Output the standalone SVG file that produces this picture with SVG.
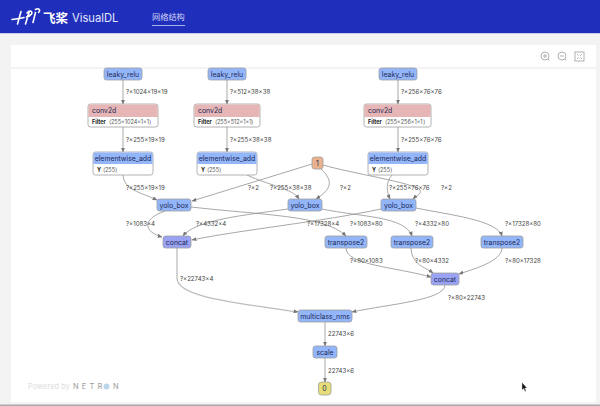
<svg xmlns="http://www.w3.org/2000/svg" width="600" height="406" viewBox="0 0 600 406">
<style>
text{font-family:"Inter","Liberation Sans",sans-serif;fill:#222}
.n{font-size:6.900px;text-anchor:middle;fill:#1d2a55}
.e{font-size:6.100px;fill:#444}
.a{font-size:5.500px;fill:#555}
.b{font-weight:700;font-size:5.500px;fill:#222}
.o{fill:#fff;stroke:#a0a0a0;stroke-width:.8}
.h{fill:#93b6fb;stroke:#a0a0a0;stroke-width:.8}
.c{fill:#e6b5b5}.bl{fill:#93b6fb}
.l{fill:none;stroke:#929292;stroke-width:.8;marker-end:url(#ah)}
.t{fill:none;stroke:#bdbdbd;stroke-width:1.300;marker-end:url(#ah)}
.i{fill:none;stroke:#a8a8a8;stroke-width:.9}
</style>
<defs><marker id="ah" markerWidth="5" markerHeight="4" refX="4.400" refY="2" orient="auto" markerUnits="userSpaceOnUse"><path d="M0 0L5 2L0 4Z" fill="#777"/></marker></defs>
<rect width="600" height="406" fill="#f3f3f3"/>
<rect width="600" height="33" fill="#1f2fbc"/>
<rect y="33" width="600" height="1" fill="#c9cdf0"/>
<rect x="11" y="45" width="585" height="357" fill="#fff"/>
<rect x="11" y="67" width="585" height="2" fill="#f3f3f3"/>
<rect y="404.500" width="600" height="1.500" fill="#a9a9a9"/>
<g id="header">
<path d="M12 19.500C16 19 20 18.500 24 17.500M21 11.500L17.500 24M25.500 24L29 12.500M27 13C30 9.500 33 11.500 31.500 14C30.500 15.500 28.500 16.500 26.500 17M33 22.500L35.500 12.500M35.500 9.500C39 7.500 41 10.500 38.500 12.500" fill="none" stroke="#fff" stroke-width="1.600" stroke-linecap="round"/>
<text x="43" y="23" font-size="12.500" font-weight="700" style="font-family:'Noto Sans CJK SC',sans-serif;fill:#fff">飞桨</text>
<text x="72" y="22" font-size="11.200" style="fill:#e4e7fa">VisualDL</text>
<text x="152" y="19.500" font-size="8.200" style="font-family:'Noto Sans CJK SC',sans-serif;fill:#cfd4f5">网络结构</text>
<rect x="152" y="25" width="33" height="1" fill="#a9b1ea"/>
</g>
<g id="toolbar">
<circle cx="545" cy="56" r="4" class="i"/><path d="M543 56h4M545 54v4M548 59l1.500 1.500" class="i"/>
<circle cx="562" cy="56" r="4" class="i"/><path d="M560 56h4M565 59l1.500 1.500" class="i"/>
<rect x="575" y="52" width="9" height="9" class="i"/><path d="M577 54l1.500 1.500M582 54l-1.500 1.500M577 59l1.500-1.500M582 59l-1.500-1.500" class="i"/>
</g>
<g id="connectors">
<path class="t" d="M123 80V104"/><path class="t" d="M227 80V104"/><path class="l" d="M398 80V104"/>
<path class="t" d="M123 127V152"/><path class="t" d="M227 127V152"/><path class="l" d="M398 127V152"/>
<path class="l" d="M123 175C124 190 140 192 157 200"/>
<path class="l" d="M247 175C270 186 292 188 299 199"/>
<path class="l" d="M392 175C385 183 387 192 390 199"/>
<path class="l" d="M312 164L192 201"/>
<path class="l" d="M321 169C335 182 330 190 316 199"/>
<path class="l" d="M323 165C350 173 415 183 420 190C422 194 416 196 413 199"/>
<path class="l" d="M165 211C140 220 145 232 162 237"/>
<path class="l" d="M288 209C245 215 195 220 183 236"/>
<path class="l" d="M381 209C320 222 240 230 192 240"/>
<path class="l" d="M191 207C260 215 325 215 346 236"/>
<path class="l" d="M322 209C360 217 405 216 412 236"/>
<path class="l" d="M416 208C450 215 497 220 502 236"/>
<path class="t" d="M177 248V278C177 298 240 303 298 312"/>
<path class="l" d="M346 248C346 265 395 267 431 277"/>
<path class="l" d="M411 248C412 265 425 267 433 273"/>
<path class="l" d="M502 248C502 262 470 270 459 274"/>
<path class="l" d="M445 285C445 300 390 304 352 312"/>
<path class="l" d="M325 322V346"/>
<path class="l" d="M325 358V382"/>
</g>
<g id="edge-labels">
<text class="e" x="126" y="94">?×1024×19×19</text>
<text class="e" x="230" y="94">?×512×38×38</text>
<text class="e" x="401" y="94">?×256×76×76</text>
<text class="e" x="126" y="142">?×255×19×19</text>
<text class="e" x="230" y="142">?×255×38×38</text>
<text class="e" x="401" y="142">?×255×76×76</text>
<text class="e" x="126" y="190">?×255×19×19</text>
<text class="e" x="248" y="190">?×2</text>
<text class="e" x="270" y="190">?×255×38×38</text>
<text class="e" x="340" y="190">?×2</text>
<text class="e" x="389" y="190">?×255×76×76</text>
<text class="e" x="441" y="190">?×2</text>
<text class="e" x="126" y="226">?×1083×4</text>
<text class="e" x="196" y="226">?×4332×4</text>
<text class="e" x="307" y="226">?×17328×4</text>
<text class="e" x="350" y="226">?×1083×80</text>
<text class="e" x="415" y="226">?×4332×80</text>
<text class="e" x="505" y="226">?×17328×80</text>
<text class="e" x="180" y="281">?×22743×4</text>
<text class="e" x="350" y="263">?×80×1083</text>
<text class="e" x="415" y="263">?×80×4332</text>
<text class="e" x="505" y="263">?×80×17328</text>
<text class="e" x="448" y="300">?×80×22743</text>
<text class="e" x="328" y="336">22743×6</text>
<text class="e" x="328" y="373">22743×6</text>
</g>
<g id="leaky_relu_1"><rect class="h" x="104" y="68" width="38" height="12" rx="2.500"/><text class="n" x="123" y="76.500">leaky_relu</text></g>
<g id="leaky_relu_2"><rect class="h" x="208" y="68" width="38" height="12" rx="2.500"/><text class="n" x="227" y="76.500">leaky_relu</text></g>
<g id="leaky_relu_3"><rect class="h" x="379" y="68" width="38" height="12" rx="2.500"/><text class="n" x="398" y="76.500">leaky_relu</text></g>
<g id="conv2d_1"><rect class="o" x="88" y="104" width="70" height="23" rx="2.500"/><path class="c" d="M88.400 117V106.500a2 2 0 0 1 2-2h65.200a2 2 0 0 1 2 2V117Z"/><text class="n" x="92" y="113" style="text-anchor:start">conv2d</text><text class="b" x="92" y="124">Filter</text><text class="a" x="109" y="124">⟨255×1024×1×1⟩</text></g>
<g id="conv2d_2"><rect class="o" x="194" y="104" width="66" height="23" rx="2.500"/><path class="c" d="M194.400 117V106.500a2 2 0 0 1 2-2h61.200a2 2 0 0 1 2 2V117Z"/><text class="n" x="198" y="113" style="text-anchor:start">conv2d</text><text class="b" x="198" y="124">Filter</text><text class="a" x="215" y="124">⟨255×512×1×1⟩</text></g>
<g id="conv2d_3"><rect class="o" x="364" y="104" width="67" height="23" rx="2.500"/><path class="c" d="M364.400 117V106.500a2 2 0 0 1 2-2h62.200a2 2 0 0 1 2 2V117Z"/><text class="n" x="368" y="113" style="text-anchor:start">conv2d</text><text class="b" x="368" y="124">Filter</text><text class="a" x="385" y="124">⟨255×256×1×1⟩</text></g>
<g id="elementwise_add_1"><rect class="o" x="93" y="152" width="60" height="23" rx="2.500"/><path class="bl" d="M93.400 164V154.500a2 2 0 0 1 2-2h55.200a2 2 0 0 1 2 2V164Z"/><text class="n" x="123" y="161">elementwise_add</text><text class="b" x="97" y="172">Y</text><text class="a" x="103" y="172">⟨255⟩</text></g>
<g id="elementwise_add_2"><rect class="o" x="197" y="152" width="60" height="23" rx="2.500"/><path class="bl" d="M197.400 164V154.500a2 2 0 0 1 2-2h55.200a2 2 0 0 1 2 2V164Z"/><text class="n" x="227" y="161">elementwise_add</text><text class="b" x="201" y="172">Y</text><text class="a" x="207" y="172">⟨255⟩</text></g>
<g id="elementwise_add_3"><rect class="o" x="368" y="152" width="60" height="23" rx="2.500"/><path class="bl" d="M368.400 164V154.500a2 2 0 0 1 2-2h55.200a2 2 0 0 1 2 2V164Z"/><text class="n" x="398" y="161">elementwise_add</text><text class="b" x="372" y="172">Y</text><text class="a" x="378" y="172">⟨255⟩</text></g>
<g id="const_1"><rect x="312" y="157" width="11" height="12" rx="2.500" fill="#eab28c" stroke="#a0a0a0" stroke-width=".8"/><text class="n" x="317.500" y="165.500">1</text></g>
<g id="yolo_box_1"><rect class="h" x="157" y="199" width="34" height="12" rx="2.500"/><text class="n" x="174" y="207.500">yolo_box</text></g>
<g id="yolo_box_2"><rect class="h" x="288" y="199" width="34" height="12" rx="2.500"/><text class="n" x="305" y="207.500">yolo_box</text></g>
<g id="yolo_box_3"><rect class="h" x="381" y="199" width="35" height="12" rx="2.500"/><text class="n" x="398.500" y="207.500">yolo_box</text></g>
<g id="concat_1"><rect x="163" y="236" width="28" height="12" rx="2.500" fill="#9aa3f3" stroke="#a0a0a0" stroke-width=".8"/><text class="n" x="177" y="244.500">concat</text></g>
<g id="transpose2_1"><rect class="h" x="325" y="236" width="42" height="12" rx="2.500"/><text class="n" x="346" y="244.500">transpose2</text></g>
<g id="transpose2_2"><rect class="h" x="391" y="236" width="42" height="12" rx="2.500"/><text class="n" x="412" y="244.500">transpose2</text></g>
<g id="transpose2_3"><rect class="h" x="481" y="236" width="42" height="12" rx="2.500"/><text class="n" x="502" y="244.500">transpose2</text></g>
<g id="concat_2"><rect x="431" y="273" width="28" height="12" rx="2.500" fill="#9aa3f3" stroke="#a0a0a0" stroke-width=".8"/><text class="n" x="445" y="281.500">concat</text></g>
<g id="multiclass_nms"><rect class="h" x="298" y="310" width="54" height="12" rx="2.500"/><text class="n" x="325" y="318.500">multiclass_nms</text></g>
<g id="scale"><rect class="h" x="313" y="346" width="24" height="12" rx="2.500"/><text class="n" x="325" y="354.500">scale</text></g>
<g id="output_0"><rect x="318.500" y="382" width="12.500" height="13" rx="3" fill="#e6dd78" stroke="#a0a0a0" stroke-width=".8"/><text class="n" x="324.500" y="391">0</text></g>
<g id="powered"><text x="28" y="389" font-size="7.500" style="fill:#dcdcdc">Powered by</text><text x="73" y="389" font-size="7.500" letter-spacing="3.200" style="fill:#9b9b9b">NETR</text><circle cx="106.500" cy="386.500" r="3" fill="#b9d7e8"/><text x="113" y="389" font-size="7.500" style="fill:#9b9b9b">N</text></g>
<path id="cursor" d="M522 382.500V390L523.700 388.500L525 391.500L526 391L524.800 388L527 388Z" fill="#111" stroke="#ddd" stroke-width=".4"/>
</svg>
